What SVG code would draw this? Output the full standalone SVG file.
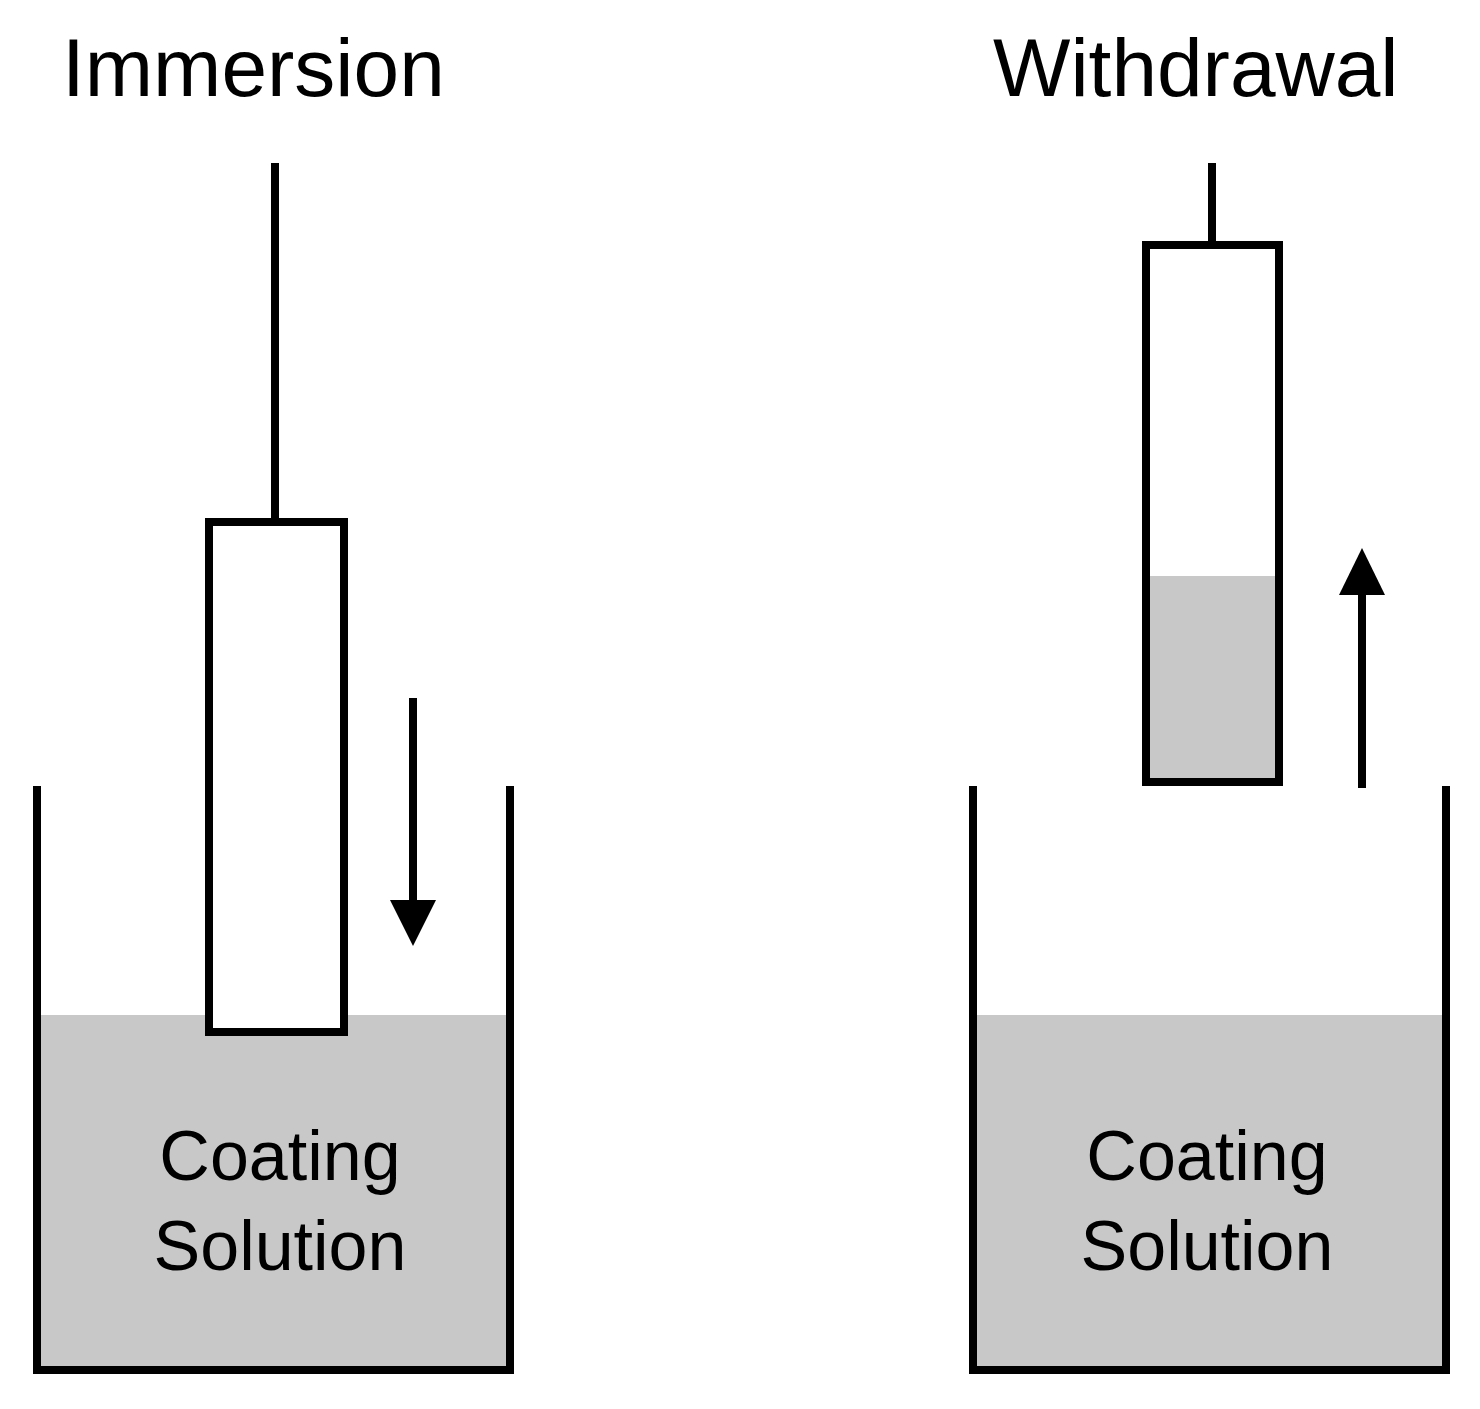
<svg xmlns="http://www.w3.org/2000/svg" width="1480" height="1409" viewBox="0 0 1480 1409">
<style>
.ln{stroke:#000;stroke-width:8;fill:none}
.liq{fill:#c8c8c8}
.t{font-family:"Liberation Sans",Arial,sans-serif;fill:#000}
.h{font-size:82px}
.b{font-size:70px;text-anchor:middle}
</style>
<rect width="1480" height="1409" fill="#fff"/>
<text class="t h" x="62" y="96">Immersion</text>
<text class="t h" x="993" y="96">Withdrawal</text>
<g id="left-beaker">
<rect class="liq" x="41" y="1015" width="465" height="352"/>
<path class="ln" d="M37 786 V1370 H510 V786"/>
<text class="t b" x="280" y="1180">Coating</text>
<text class="t b" x="280" y="1270">Solution</text>
</g>
<g id="left-substrate">
<line class="ln" x1="275" y1="163" x2="275" y2="522"/>
<rect class="ln" x="209" y="522" width="135" height="510" fill="#fff" style="fill:#fff"/>
</g>
<g id="right-beaker">
<rect class="liq" x="977" y="1015" width="465" height="352"/>
<path class="ln" d="M973 786 V1370 H1446 V786"/>
<text class="t b" x="1207" y="1180">Coating</text>
<text class="t b" x="1207" y="1270">Solution</text>
</g>
<g id="right-substrate">
<line class="ln" x1="1212" y1="163" x2="1212" y2="245"/>
<rect class="liq" x="1150" y="576" width="125" height="205"/>
<rect class="ln" x="1146" y="245" width="133" height="537"/>
</g>
<g id="connectors">
<line class="ln" x1="413" y1="698" x2="413" y2="905"/>
<polygon points="390,900 436,900 413,946"/>
<line class="ln" x1="1362" y1="788" x2="1362" y2="590"/>
<polygon points="1339,595 1385,595 1362,548"/>
</g>
</svg>
